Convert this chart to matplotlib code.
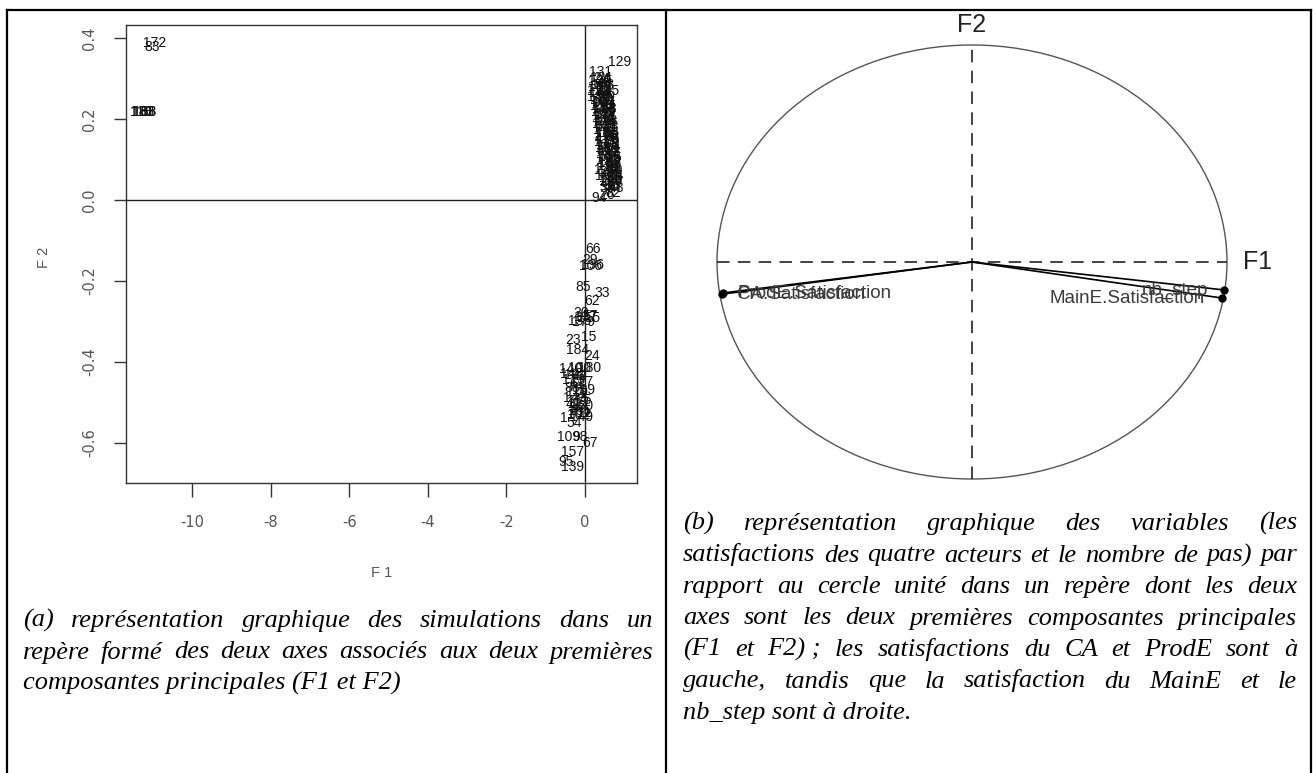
import matplotlib
matplotlib.use("Agg")
import matplotlib.pyplot as plt
from matplotlib.patches import Circle
from matplotlib.lines import Line2D

plt.rcParams["axes.unicode_minus"] = False

W, H = 1313, 773

# ---------------- data: simulations on (F1, F2) ----------------
# isolated simulations, far left
far_ids = ["172", "83", "118", "183", "188", "168"]
far_f1 = [-10.94, -11.02, -11.30, -11.25, -11.20, -11.22]
far_f2 = [0.388, 0.378, 0.218, 0.218, 0.218, 0.218]

# dense band, upper right (F2 > 0)
band_ids = ["129", "131",
            "2", "121", "4", "5", "163", "8", "110", "21", "145",
            "186", "59", "12", "90", "167", "44", "13", "152", "68",
            "27", "117", "81", "37", "128", "9", "50", "141", "73",
            "18", "165", "86", "41", "176", "99", "6", "153", "64",
            "31", "111", "78", "55", "136", "25", "19", "146", "87",
            "125", "48", "10", "191", "65", "14", "22", "34", "17",
            "38", "40", "43",
            "94", "26", "82", "16", "126",
            "120", "49", "133", "52", "144", "58", "150", "60", "158",
            "63", "161", "69", "164", "71", "169", "72", "171", "74",
            "175", "76", "177", "79", "182", "80", "187", "84", "192",
            "89", "194", "91", "197", "93", "198", "97"]
band_f1 = [0.87, 0.38,
           0.31, 0.42, 0.52, 0.33, 0.44, 0.55, 0.34, 0.45, 0.56,
           0.35, 0.47, 0.58, 0.37, 0.48, 0.59, 0.38, 0.50, 0.61,
           0.40, 0.51, 0.63, 0.42, 0.53, 0.64, 0.43, 0.54, 0.66,
           0.44, 0.56, 0.67, 0.45, 0.57, 0.69, 0.47, 0.58, 0.70,
           0.48, 0.60, 0.72, 0.50, 0.61, 0.73, 0.51, 0.62, 0.74,
           0.53, 0.64, 0.76, 0.54, 0.66, 0.77, 0.56, 0.67, 0.78,
           0.57, 0.68, 0.79,
           0.36, 0.55, 0.72, 0.70, 0.66,
           0.37, 0.49, 0.36, 0.50, 0.39, 0.52, 0.41, 0.54, 0.43,
           0.56, 0.44, 0.57, 0.46, 0.59, 0.47, 0.60, 0.49, 0.62,
           0.51, 0.63, 0.52, 0.65, 0.54, 0.67, 0.56, 0.68, 0.58,
           0.70, 0.60, 0.71, 0.62, 0.73, 0.64, 0.75]
band_f2 = [0.340, 0.316,
           0.300, 0.301, 0.298, 0.285, 0.284, 0.286, 0.270, 0.271, 0.269,
           0.255, 0.256, 0.254, 0.240, 0.241, 0.239, 0.225, 0.226, 0.224,
           0.210, 0.211, 0.209, 0.195, 0.196, 0.194, 0.180, 0.181, 0.179,
           0.165, 0.166, 0.164, 0.150, 0.151, 0.149, 0.135, 0.136, 0.134,
           0.120, 0.121, 0.119, 0.105, 0.106, 0.104, 0.090, 0.091, 0.089,
           0.075, 0.076, 0.074, 0.060, 0.061, 0.059, 0.045, 0.046, 0.044,
           0.030, 0.031, 0.029,
           0.004, 0.012, 0.016, 0.035, 0.048,
           0.293, 0.292, 0.278, 0.277, 0.263, 0.262, 0.248, 0.247, 0.233,
           0.232, 0.218, 0.217, 0.203, 0.202, 0.188, 0.187, 0.173, 0.172,
           0.158, 0.157, 0.143, 0.142, 0.128, 0.127, 0.113, 0.112, 0.098,
           0.097, 0.083, 0.082, 0.068, 0.067, 0.053, 0.038]

# lower cluster (F2 < 0)
low_ids = ["66", "29", "196", "106", "85", "33", "62",
           "20", "137", "155", "179", "57", "135",
           "15", "23", "184", "24",
           "140", "100", "180", "148", "104", "42", "173", "127", "61",
           "88", "189", "119", "3", "143", "75", "112", "47", "160",
           "36", "185", "11", "70", "102", "149",
           "1", "54", "109", "98", "67", "157", "95", "139"]
low_f1 = [0.20, 0.13, 0.20, 0.15, -0.05, 0.43, 0.18,
          -0.10, 0.00, 0.08, -0.05, 0.14, -0.15,
          0.10, -0.30, -0.20, 0.18,
          -0.36, -0.15, 0.12, -0.35, -0.25, -0.15, -0.30, -0.10, -0.20,
          -0.33, -0.05, -0.22, -0.12, -0.28, -0.02, -0.18, -0.30, -0.08,
          -0.22, -0.13, -0.02, -0.27, -0.17, -0.08,
          -0.53, -0.28, -0.43, -0.13, 0.13, -0.33, -0.48, -0.33]
low_f2 = [-0.121, -0.148, -0.160, -0.162, -0.215, -0.230, -0.249,
          -0.279, -0.289, -0.291, -0.301, -0.286, -0.300,
          -0.338, -0.346, -0.370, -0.385,
          -0.418, -0.416, -0.415, -0.430, -0.432, -0.436, -0.445, -0.450, -0.455,
          -0.465, -0.470, -0.475, -0.480, -0.490, -0.495, -0.500, -0.505, -0.510,
          -0.515, -0.520, -0.525, -0.525, -0.530, -0.535,
          -0.538, -0.552, -0.585, -0.585, -0.600, -0.622, -0.646, -0.659]

# ---------------- data: variables on the unit circle ----------------
var_names = ["CA.Satisfaction", "ProdE.Satisfaction", "nb_step", "MainE.Satisfaction"]
var_f1 = [-0.980, -0.978, 0.990, 0.980]
var_f2 = [-0.148, -0.143, -0.129, -0.166]

caption_a = [
    "(a) représentation graphique des simulations dans un",
    "repère formé des deux axes associés aux deux premières",
    "composantes principales (F1 et F2)",
]
caption_b = [
    "(b) représentation graphique des variables (les",
    "satisfactions des quatre acteurs et le nombre de pas) par",
    "rapport au cercle unité dans un repère dont les deux",
    "axes sont les deux premières composantes principales",
    "(F1 et F2)\u00a0; les satisfactions du CA et ProdE sont à",
    "gauche, tandis que la satisfaction du MainE et le",
    "nb_step sont à droite.",
]

fig = plt.figure(figsize=(W / 100, H / 100), dpi=100)

# ---------------- (a) individuals plot ----------------
ax = fig.add_axes([126 / W, 1 - 483 / H, (637 - 126) / W, (483 - 25) / H])
ax.set_xlim(-11.68, 1.32)
ax.set_ylim(-0.699, 0.432)
ax.axhline(0, color="#222222", lw=1.0)
ax.axvline(0, color="#222222", lw=1.0)

for ids, xs, ys in [(far_ids, far_f1, far_f2), (band_ids, band_f1, band_f2),
                    (low_ids, low_f1, low_f2)]:
    for lab, x, y in zip(ids, xs, ys):
        ax.text(x, y, lab, ha="center", va="center", fontsize=10,
                color="#111111", family="Liberation Sans")

ax.set_xticks([-10, -8, -6, -4, -2, 0])
ax.set_xticklabels(["-10", "-8", "-6", "-4", "-2", "0"])
ax.set_yticks([-0.6, -0.4, -0.2, 0.0, 0.2, 0.4])
ax.set_yticklabels(["-0.6", "-0.4", "-0.2", "0.0", "0.2", "0.4"],
                   rotation=90, va="center")
ax.tick_params(axis="x", direction="out", length=10, width=1, pad=13,
               labelsize=10.5, labelcolor="#555555", color="#333333")
ax.tick_params(axis="y", direction="out", length=9, width=1, pad=12,
               labelsize=10.5, labelcolor="#555555", color="#333333")
for s in ax.spines.values():
    s.set_color("#333333")
    s.set_linewidth(1.0)

fig.text(382 / W, 1 - 573 / H, "F 1", ha="center", va="center",
         fontsize=10.5, color="#555555", family="Liberation Sans")
fig.text(44 / W, 1 - 257 / H, "F 2", ha="center", va="center", rotation=90,
         fontsize=10.5, color="#555555", family="Liberation Sans")

# ---------------- (b) correlation circle ----------------
ax2 = fig.add_axes([717 / W, 1 - 479 / H, 510 / W, 434 / H])
ax2.set_xlim(-1, 1)
ax2.set_ylim(-1, 1)
ax2.axis("off")
ax2.add_patch(Circle((0, 0), 1, fill=False, ec="#555555", lw=1.0, clip_on=False))
ax2.plot([-1, 1], [0, 0], ls=(0, (7.5, 5)), color="#222222", lw=1.2, clip_on=False)
ax2.plot([0, 0], [-1, 1], ls=(0, (7.5, 5)), color="#222222", lw=1.2, clip_on=False)

for name, x, y in zip(var_names, var_f1, var_f2):
    ax2.plot([0, x], [0, y], color="black", lw=1.2, clip_on=False)
    ax2.plot(x, y, "o", ms=5, color="black", clip_on=False)
    if x < 0:
        ax2.annotate(name, (x, y), xytext=(11, 0), textcoords="offset points",
                     ha="left", va="center", fontsize=13.5, color="#3a3a3a",
                     family="Liberation Sans")
    else:
        ax2.annotate(name, (x, y), xytext=(-12, 0), textcoords="offset points",
                     ha="right", va="center", fontsize=13.5, color="#3a3a3a",
                     family="Liberation Sans")

fig.text(972 / W, 1 - 25 / H, "F2", ha="center", va="center", fontsize=18,
         color="#222222", family="Liberation Sans")
fig.text(1258 / W, 1 - 262 / H, "F1", ha="center", va="center", fontsize=18,
         color="#222222", family="Liberation Sans")

# ---------------- table borders ----------------
border = dict(color="black", lw=1.6, transform=fig.transFigure)
fig.add_artist(Line2D([7 / W, 1311 / W], [1 - 10 / H, 1 - 10 / H], **border))
for xb in (7, 666, 1311):
    fig.add_artist(Line2D([xb / W, xb / W], [1 - 10 / H, 0], **border))


# ---------------- justified captions ----------------
def justified(lines, x0, x1, y_first, dy, size):
    r = fig.canvas.get_renderer()
    for i, line in enumerate(lines):
        y = 1 - (y_first + i * dy) / H
        if i == len(lines) - 1:
            fig.text(x0 / W, y, line, ha="left", va="baseline", fontsize=size,
                     style="italic", family="Liberation Serif")
            continue
        words = line.split(" ")
        texts = [fig.text(0, y, w, ha="left", va="baseline", fontsize=size,
                          style="italic", family="Liberation Serif") for w in words]
        widths = [t.get_window_extent(r).width for t in texts]
        gap = (x1 - x0 - sum(widths)) / (len(words) - 1)
        x = x0
        for t, w in zip(texts, widths):
            t.set_position((x / W, y))
            x += w + gap


justified(caption_a, 23, 653, 627, 31.5, 19)
justified(caption_b, 683, 1297, 530, 31.5, 19)

fig.savefig("out.png", dpi=100)
